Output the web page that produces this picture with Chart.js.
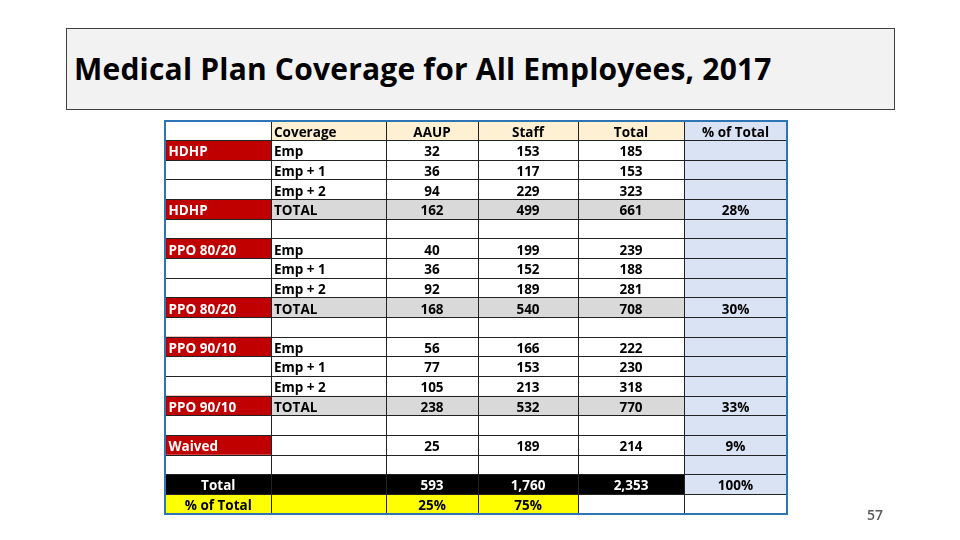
<!DOCTYPE html>
<html>
<head>
<meta charset="utf-8">
<script src="https://cdn.jsdelivr.net/npm/chart.js@4.4.1/dist/chart.umd.min.js"></script>
<style>
  html, body { margin: 0; padding: 0; background: #fff; }
  #wrap { position: relative; width: 960px; height: 540px; overflow: hidden; }
  #titleBox {
    position: absolute; left: 66px; top: 28px; width: 829px; height: 82px;
    background: #f2f2f2; border: 1px solid #3f3f3f; box-sizing: border-box;
  }
  #titleBox span {
    position: absolute; left: 7px; top: 19px;
    font: bold 30px "Open Sans", sans-serif; color: #000; white-space: nowrap;
    letter-spacing: 0.2px;
  }
  #pageNum {
    position: absolute; left: 867px; top: 505px;
    font: 600 14px "Open Sans", sans-serif; color: #595959;
  }
  canvas { position: absolute; left: 0; top: 0; }
</style>
</head>
<body>
<div id="wrap">
  <canvas id="tableChart" width="960" height="540"></canvas>
  <div id="titleBox"><span>Medical Plan Coverage for All Employees, 2017</span></div>
  <div id="pageNum">57</div>
</div>
<script>
// Table data
const headers = ['', 'Coverage', 'AAUP', 'Staff', 'Total', '% of Total'];
const plans = ['HDHP', 'PPO 80/20', 'PPO 90/10'];
const coverageLevels = ['Emp', 'Emp + 1', 'Emp + 2', 'TOTAL'];

const hdhpAaup = [32, 36, 94, 162];
const hdhpStaff = [153, 117, 229, 499];
const hdhpTotal = [185, 153, 323, 661];

const ppo8020Aaup = [40, 36, 92, 168];
const ppo8020Staff = [199, 152, 189, 540];
const ppo8020Total = [239, 188, 281, 708];

const ppo9010Aaup = [56, 77, 105, 238];
const ppo9010Staff = [166, 153, 213, 532];
const ppo9010Total = [222, 230, 318, 770];

const planShare = ['28%', '30%', '33%'];
const waivedCounts = [25, 189, 214];
const waivedShare = '9%';
const grandTotals = [593, 1760, 2353];
const groupShare = ['25%', '75%'];
const grandShare = '100%';

// layout (column edges in table units, 1 unit = 1px)
const colEdges = [0, 106, 221, 313, 413, 519, 622];

const RED = '#c00000', GRAY = '#d9d9d9', PEACH = '#fdf0d3', BLUE = '#dae3f3',
      BLACK = '#000000', YELLOW = '#ffff00', WHITE = '#ffffff';

const fmt = v => v.toLocaleString('en-US');
const cell = (text, fill, color, align) => ({ text, fill, color: color || '#000', align: align || 'center' });

// build the 20 table rows
const table = [];
table.push(headers.map((h, c) => cell(h, c === 0 ? WHITE : (c === 5 ? BLUE : PEACH), '#000', c === 1 ? 'left' : 'center')));

const planCols = [
  [hdhpAaup, hdhpStaff, hdhpTotal],
  [ppo8020Aaup, ppo8020Staff, ppo8020Total],
  [ppo9010Aaup, ppo9010Staff, ppo9010Total]
];
plans.forEach((plan, p) => {
  coverageLevels.forEach((lvl, i) => {
    const isTotal = i === 3;
    const labelled = i === 0 || isTotal;
    const bg = isTotal ? GRAY : WHITE;
    table.push([
      cell(labelled ? plan : '', labelled ? RED : WHITE, '#fff', 'left'),
      cell(lvl, bg, '#000', 'left'),
      cell(fmt(planCols[p][0][i]), bg),
      cell(fmt(planCols[p][1][i]), bg),
      cell(fmt(planCols[p][2][i]), bg),
      cell(isTotal ? planShare[p] : '', BLUE)
    ]);
  });
  table.push([cell('', WHITE), cell('', WHITE), cell('', WHITE), cell('', WHITE), cell('', WHITE), cell('', BLUE)]);
});
table.push([
  cell('Waived', RED, '#fff', 'left'), cell('', WHITE),
  cell(fmt(waivedCounts[0]), WHITE), cell(fmt(waivedCounts[1]), WHITE), cell(fmt(waivedCounts[2]), WHITE),
  cell(waivedShare, BLUE)
]);
table.push([cell('', WHITE), cell('', WHITE), cell('', WHITE), cell('', WHITE), cell('', WHITE), cell('', BLUE)]);
table.push([
  cell('Total', BLACK, '#fff'), cell('', BLACK),
  cell(fmt(grandTotals[0]), BLACK, '#fff'), cell(fmt(grandTotals[1]), BLACK, '#fff'), cell(fmt(grandTotals[2]), BLACK, '#fff'),
  cell(grandShare, BLUE)
]);
table.push([
  cell('% of Total', YELLOW), cell('', YELLOW),
  cell(groupShare[0], YELLOW), cell(groupShare[1], YELLOW), cell('', WHITE), cell('', WHITE)
]);

const rowIds = table.map((r, i) => 'r' + i);

// one floating-bar dataset per column, each bar is a cell
const datasets = headers.map((h, c) => ({
  label: h || 'Plan',
  data: table.map(() => [colEdges[c], colEdges[c + 1]]),
  backgroundColor: table.map(r => r[c].fill),
  borderWidth: 0,
  categoryPercentage: 1,
  barPercentage: 1,
  grouped: false
}));

const cellText = {
  id: 'cellText',
  afterDatasetsDraw(chart) {
    const g = chart.ctx;
    g.save();
    g.font = 'bold 13.5px "Open Sans", sans-serif';
    g.textBaseline = 'middle';
    chart.data.datasets.forEach((ds, c) => {
      chart.getDatasetMeta(c).data.forEach((el, i) => {
        const t = table[i][c];
        if (!t.text) return;
        g.fillStyle = t.color;
        if (t.align === 'left') {
          g.textAlign = 'left';
          g.fillText(t.text, el.base + 3, el.y + 2);
        } else {
          g.textAlign = 'center';
          g.fillText(t.text, (el.base + el.x) / 2, el.y + 2);
        }
      });
    });
    g.restore();
  },
  afterDraw(chart) {
    const { left, top, right, bottom } = chart.chartArea;
    const g = chart.ctx;
    g.save();
    g.strokeStyle = '#2e75b6';
    g.lineWidth = 2;
    g.strokeRect(left, top, right - left, bottom - top);
    g.restore();
  }
};

new Chart(document.getElementById('tableChart'), {
  type: 'bar',
  data: { labels: rowIds, datasets },
  options: {
    indexAxis: 'y',
    responsive: false,
    animation: false,
    layout: { padding: { left: 165, top: 121, right: 173, bottom: 26 } },
    plugins: { legend: { display: false }, tooltip: { enabled: false }, title: { display: false } },
    scales: {
      x: {
        type: 'linear', min: colEdges[0], max: colEdges[colEdges.length - 1],
        afterBuildTicks: s => { s.ticks = colEdges.map(v => ({ value: v })); },
        afterFit: s => { s.height = 0; },
        ticks: { display: false },
        border: { display: false },
        grid: { color: '#222', lineWidth: 1, drawTicks: false, z: 1 }
      },
      y: {
        type: 'category',
        afterFit: s => { s.width = 0; },
        ticks: { display: false },
        border: { display: false },
        grid: { color: '#222', lineWidth: 1, drawTicks: false, offset: true, z: 1 }
      }
    }
  },
  plugins: [cellText]
});
</script>
</body>
</html>
